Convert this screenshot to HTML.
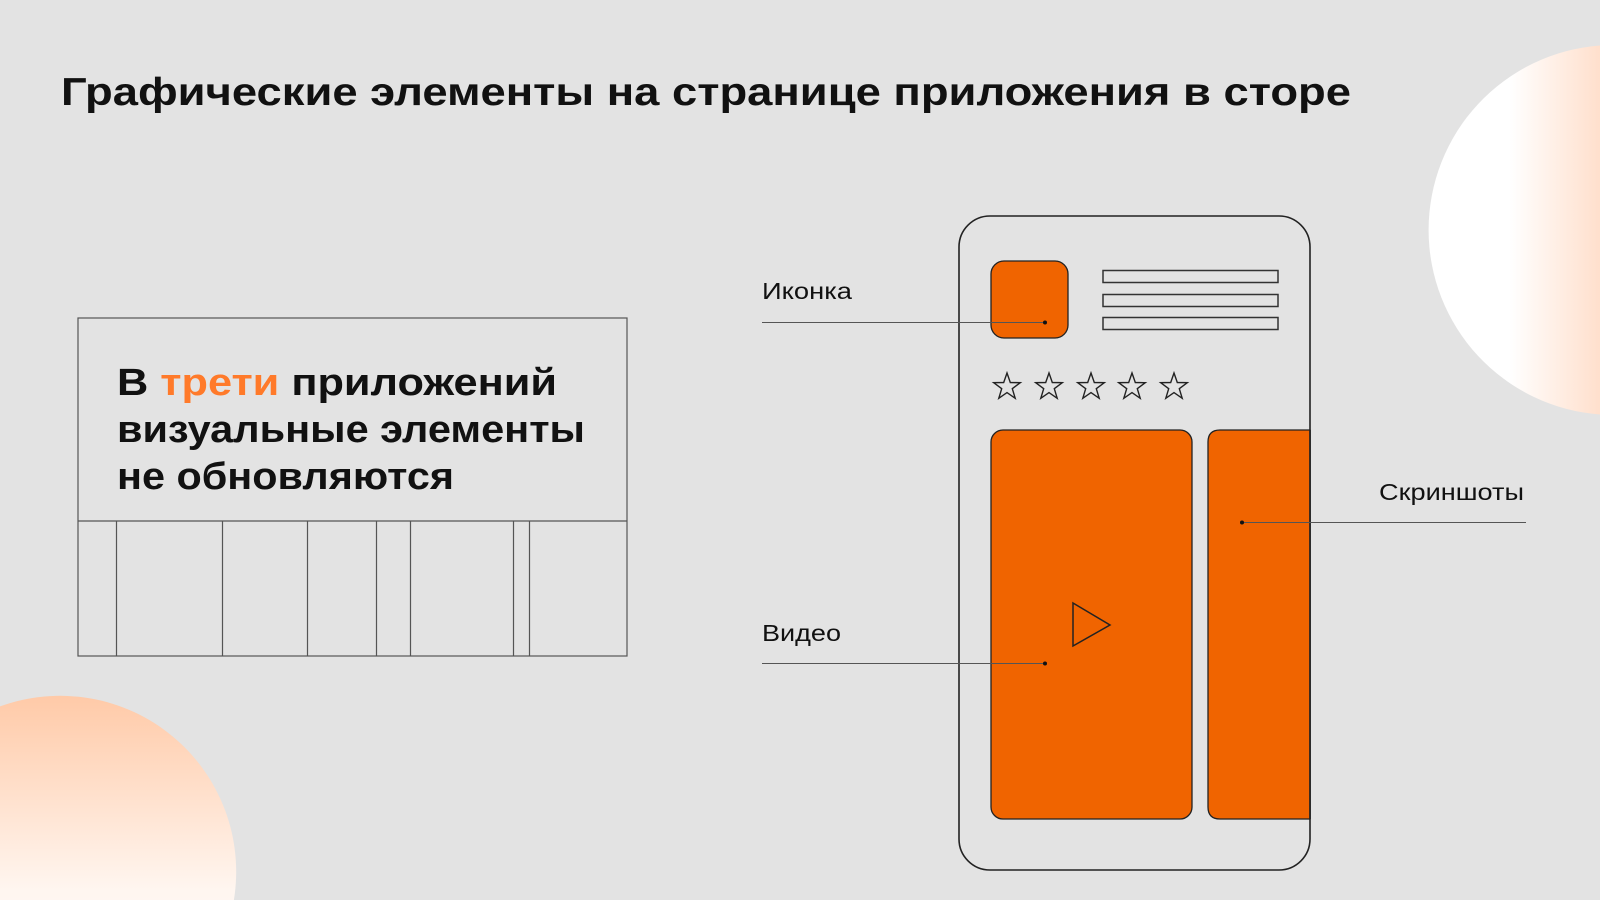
<!DOCTYPE html>
<html><head><meta charset="utf-8"><style>
html,body{margin:0;padding:0;background:#e3e3e3;width:1600px;height:900px;overflow:hidden;position:relative;}
svg{display:block;position:absolute;left:0;top:0;}
text{font-family:"Liberation Sans","DejaVu Sans",sans-serif;}
</style></head><body>
<svg width="1600" height="900" viewBox="0 0 1600 900" xmlns="http://www.w3.org/2000/svg" overflow="hidden">
<defs>
<linearGradient id="g1" gradientUnits="userSpaceOnUse" x1="1428" y1="0" x2="1798" y2="0">
<stop offset="0" stop-color="#ffffff"/><stop offset="0.22" stop-color="#ffffff"/><stop offset="0.7" stop-color="#ffc19c"/>
</linearGradient>
<linearGradient id="g2" gradientUnits="userSpaceOnUse" x1="0" y1="697" x2="0" y2="1049">
<stop offset="0" stop-color="#ffcaa8"/><stop offset="0.55" stop-color="#fff6f0"/><stop offset="1" stop-color="#ffffff"/>
</linearGradient>
</defs>
<rect width="1600" height="900" fill="#e3e3e3"/>
<path d="M1600,45.5 A185,185 0 0 0 1600,414.5 Z" fill="url(#g1)"/>
<path d="M0,900 L233.9,900 A176,176 0 0 0 0,706.4 Z" fill="url(#g2)"/>

<text x="61" y="105" font-size="39" font-weight="bold" fill="#111" textLength="1290" lengthAdjust="spacingAndGlyphs">Графические элементы на странице приложения в сторе</text>

<g fill="none" stroke="#555" stroke-width="1.2">
<rect x="78" y="318" width="549" height="338"/>
<line x1="78" y1="521" x2="627" y2="521"/>
<line x1="116.5" y1="521" x2="116.5" y2="656"/>
<line x1="222.5" y1="521" x2="222.5" y2="656"/>
<line x1="307.5" y1="521" x2="307.5" y2="656"/>
<line x1="376.5" y1="521" x2="376.5" y2="656"/>
<line x1="410.5" y1="521" x2="410.5" y2="656"/>
<line x1="513.5" y1="521" x2="513.5" y2="656"/>
<line x1="529.5" y1="521" x2="529.5" y2="656"/>
</g>
<g font-size="38" font-weight="bold" fill="#111">
<text x="117" y="395" textLength="440" lengthAdjust="spacingAndGlyphs">В <tspan fill="#ff7a2a">трети</tspan> приложений</text>
<text x="117" y="442" textLength="468" lengthAdjust="spacingAndGlyphs">визуальные элементы</text>
<text x="117" y="489" textLength="337" lengthAdjust="spacingAndGlyphs">не обновляются</text>
</g>

<rect x="959" y="216" width="351" height="654" rx="31" fill="none" stroke="#222" stroke-width="1.6"/>
<rect x="991" y="261" width="77" height="77" rx="13" fill="#f06400" stroke="#222" stroke-width="1.3"/>
<g fill="none" stroke="#333" stroke-width="1.5">
<rect x="1103" y="270.5" width="175" height="12"/>
<rect x="1103" y="294.5" width="175" height="12"/>
<rect x="1103" y="317.5" width="175" height="12"/>
</g>
<g fill="none" stroke="#222" stroke-width="1.4">
<polygon points="0,-14 3.3,-4.5 13.3,-4.3 5.3,1.7 8.2,11.3 0,5.6 -8.2,11.3 -5.3,1.7 -13.3,-4.3 -3.3,-4.5" transform="translate(1007,387)"/>
<polygon points="0,-14 3.3,-4.5 13.3,-4.3 5.3,1.7 8.2,11.3 0,5.6 -8.2,11.3 -5.3,1.7 -13.3,-4.3 -3.3,-4.5" transform="translate(1049,387)"/>
<polygon points="0,-14 3.3,-4.5 13.3,-4.3 5.3,1.7 8.2,11.3 0,5.6 -8.2,11.3 -5.3,1.7 -13.3,-4.3 -3.3,-4.5" transform="translate(1091,387)"/>
<polygon points="0,-14 3.3,-4.5 13.3,-4.3 5.3,1.7 8.2,11.3 0,5.6 -8.2,11.3 -5.3,1.7 -13.3,-4.3 -3.3,-4.5" transform="translate(1132,387)"/>
<polygon points="0,-14 3.3,-4.5 13.3,-4.3 5.3,1.7 8.2,11.3 0,5.6 -8.2,11.3 -5.3,1.7 -13.3,-4.3 -3.3,-4.5" transform="translate(1174,387)"/>
</g>
<rect x="991" y="430" width="201" height="389" rx="12" fill="#f06400" stroke="#222" stroke-width="1.3"/>
<path d="M1310,430 L1220,430 Q1208,430 1208,442 L1208,807 Q1208,819 1220,819 L1310,819 Z" fill="#f06400" stroke="#222" stroke-width="1.3"/>
<line x1="1310" y1="430" x2="1310" y2="819" stroke="#222" stroke-width="1.6"/>
<polygon points="1073,603 1110,625 1073,646" fill="none" stroke="#222" stroke-width="1.5"/>

<g font-size="23" fill="#111">
<text x="762" y="299" textLength="90" lengthAdjust="spacingAndGlyphs">Иконка</text>
<text x="762" y="641" textLength="79" lengthAdjust="spacingAndGlyphs">Видео</text>
<text x="1379" y="500" textLength="145" lengthAdjust="spacingAndGlyphs">Скриншоты</text>
</g>
<g stroke="#555" stroke-width="1">
<line x1="762" y1="322.5" x2="1045" y2="322.5"/>
<line x1="762" y1="663.5" x2="1045" y2="663.5"/>
<line x1="1242" y1="522.5" x2="1526" y2="522.5"/>
</g>
<g fill="#111">
<circle cx="1045" cy="322.5" r="2"/>
<circle cx="1045" cy="663.5" r="2"/>
<circle cx="1242" cy="522.5" r="2"/>
</g>
</svg>
</body></html>
